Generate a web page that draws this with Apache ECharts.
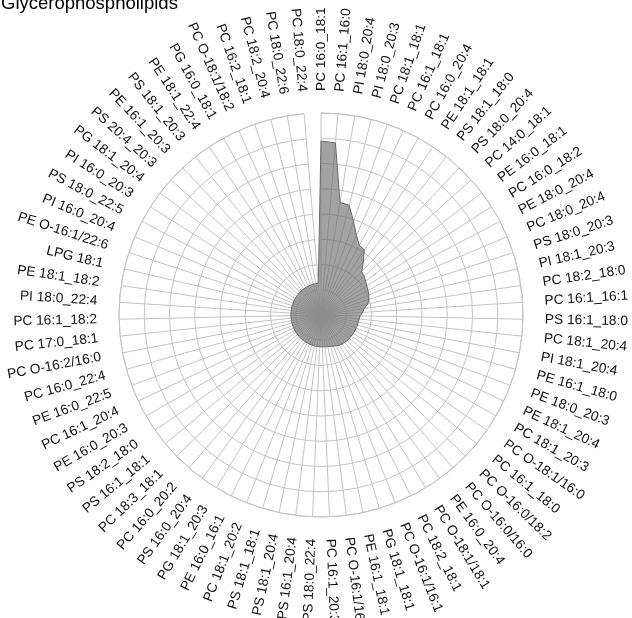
<!DOCTYPE html>
<html>
<head>
<meta charset="utf-8">
<script src="https://cdn.jsdelivr.net/npm/echarts@6/dist/echarts.min.js"></script>
<style>
  html, body { margin: 0; padding: 0; background: #fff; }
  #chart { width: 632px; height: 618px; }
</style>
</head>
<body>
<div id="chart"></div>
<script>
// Lipid species, clockwise from the top
const categories = [
  'PC 16:0_18:1', 'PC 16:1_16:0', 'PI 18:0_20:4', 'PI 18:0_20:3', 'PC 18:1_18:1',
  'PC 16:1_18:1', 'PC 16:0_20:4', 'PE 18:1_18:1', 'PS 18:1_18:0', 'PS 18:0_20:4',
  'PC 14:0_18:1', 'PE 16:0_18:1', 'PC 16:0_18:2', 'PE 18:0_20:4', 'PC 18:0_20:4',
  'PS 18:0_20:3', 'PI 18:1_20:3', 'PC 18:2_18:0', 'PC 16:1_16:1', 'PS 16:1_18:0',
  'PC 18:1_20:4', 'PI 18:1_20:4', 'PE 16:1_18:0', 'PE 18:0_20:3', 'PE 18:1_20:4',
  'PC 18:1_20:3', 'PC O-18:1/16:0', 'PC 16:1_18:0', 'PC O-16:0/18:2', 'PC O-16:0/16:0',
  'PE 16:0_20:4', 'PC O-18:1/18:1', 'PC 18:2_18:1', 'PC O-16:1/16:1', 'PG 18:1_18:1',
  'PE 16:1_18:1', 'PC O-16:1/16:0', 'PC 16:1_20:3', 'PS 18:0_22:4', 'PS 16:1_20:4',
  'PS 18:1_20:4', 'PS 18:1_18:1', 'PC 18:1_20:2', 'PE 16:0_16:1', 'PG 18:1_20:3',
  'PS 16:0_20:4', 'PC 16:0_20:2', 'PC 18:3_18:1', 'PS 16:1_18:1', 'PS 18:2_18:0',
  'PE 16:0_20:3', 'PC 16:1_20:4', 'PE 16:0_22:5', 'PC 16:0_22:4', 'PC O-16:2/16:0',
  'PC 17:0_18:1', 'PC 16:1_18:2', 'PI 18:0_22:4', 'PE 18:1_18:2', 'LPG 18:1',
  'PE O-16:1/22:6', 'PI 16:0_20:4', 'PS 18:0_22:5', 'PI 16:0_20:3', 'PG 18:1_20:4',
  'PS 20:4_20:3', 'PE 16:1_20:3', 'PS 18:1_20:3', 'PE 18:1_22:4', 'PG 16:0_18:1',
  'PC O-18:1/18:2', 'PC 16:2_18:1', 'PC 18:2_20:4', 'PC 18:0_22:6', 'PC 18:0_22:4'
];

// Relative abundance of each species
const values = [
  6.89, 6.84, 4.52, 4.49, 3.92, 3.45, 3.15, 3.10, 2.70, 2.36,
  2.30, 2.22, 2.15, 2.10, 2.05, 2.00, 1.90, 1.73, 1.65, 1.55,
  1.52, 1.50, 1.50, 1.48, 1.48, 1.47, 1.46, 1.45, 1.45, 1.43,
  1.42, 1.40, 1.36, 1.33, 1.30, 1.28, 1.27, 1.26, 1.26, 1.25,
  1.25, 1.24, 1.24, 1.23, 1.23, 1.22, 1.22, 1.21, 1.21, 1.20,
  1.20, 1.20, 1.19, 1.19, 1.19, 1.19, 1.19, 1.19, 1.19, 1.20,
  1.20, 1.20, 1.21, 1.21, 1.22, 1.22, 1.23, 1.23, 1.24, 1.24,
  1.25, 1.25, 1.26, 1.26, 1.27
];

const radiusMax = 8;
const ringStep = 1;
const titleText = 'Glycerophospholipids';

const gridColor = '#c3c3c3';
const labelGap = 22;           // px between outer ring and species names
const labelFont = '13.7px "Liberation Sans", Arial, sans-serif';

const chart = echarts.init(document.getElementById('chart'), null, { renderer: 'canvas' });

const option = {
  animation: false,
  graphic: [{
    type: 'text',
    x: 1,
    y: 13,
    style: {
      text: titleText,
      font: '18.5px "Liberation Sans", Arial, sans-serif',
      fill: '#000',
      verticalAlign: 'bottom'
    }
  }],
  polar: { center: [321, 315], radius: 202 },
  angleAxis: {
    type: 'category',
    data: categories,
    boundaryGap: false,
    startAngle: 90,
    clockwise: true,
    axisLine: { show: true, lineStyle: { color: gridColor, width: 1 } },
    axisTick: { show: false, interval: 0 },
    axisLabel: { show: false, interval: 0 },
    splitLine: { show: true, interval: 0, lineStyle: { color: gridColor, width: 1 } }
  },
  radiusAxis: {
    min: 0,
    max: radiusMax,
    interval: ringStep,
    axisLine: { show: false },
    axisTick: { show: false },
    axisLabel: { show: false },
    splitLine: { show: true, lineStyle: { color: gridColor, width: 1 } }
  },
  series: [
    {
      // filled profile polygon
      type: 'custom',
      coordinateSystem: 'polar',
      data: values.map((v, i) => [v, i]),
      z: 3,
      renderItem: function (params, api) {
        if (params.dataIndex !== 0) return;
        const pts = values.map((v, i) => api.coord([v, i]));
        return {
          type: 'polygon',
          shape: { points: pts },
          style: { fill: 'rgba(110,110,110,0.64)', stroke: '#6a6a6a', lineWidth: 1 }
        };
      }
    },
    {
      // radial species names
      type: 'custom',
      coordinateSystem: 'polar',
      data: categories.map((c, i) => [radiusMax, i]),
      z: 4,
      renderItem: function (params, api) {
        const i = params.dataIndex;
        const c = api.coord([0, i]);
        const o = api.coord([radiusMax, i]);
        const dx = o[0] - c[0], dy = o[1] - c[1];
        const len = Math.hypot(dx, dy);
        const ux = dx / len, uy = dy / len;
        let theta = Math.atan2(ux, -uy);
        if (theta < 0) theta += 2 * Math.PI;
        const rightSide = theta < Math.PI;
        const rot = rightSide ? Math.PI / 2 - theta : 3 * Math.PI / 2 - theta;
        return {
          type: 'text',
          x: o[0] + ux * labelGap,
          y: o[1] + uy * labelGap,
          rotation: rot,
          style: {
            text: categories[i],
            font: labelFont,
            fill: '#111',
            align: rightSide ? 'left' : 'right',
            verticalAlign: 'middle'
          }
        };
      }
    }
  ]
};

chart.setOption(option);
</script>
</body>
</html>
